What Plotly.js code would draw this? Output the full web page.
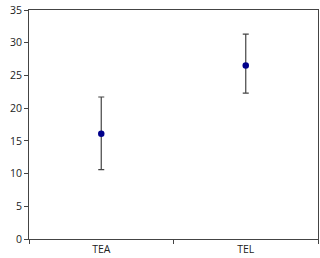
<!DOCTYPE html>
<html><head><meta charset="utf-8">
<script src="https://cdn.plot.ly/plotly-3.0.1.min.js"></script>
<style>html,body{margin:0;padding:0;background:#fff}#c{width:320px;height:258px}</style>
</head><body><div id="c"></div>
<script>
var categories = ["TEA", "TEL"];
var means = [16.1, 26.5];
var errPlus = [5.6, 4.8];
var errMinus = [5.5, 4.2];
var yTicks = [0, 5, 10, 15, 20, 25, 30, 35];

var trace = {
  type: "scatter", mode: "markers",
  x: categories, y: means,
  marker: {color: "#00008b", size: 6.5},
  error_y: {type: "data", symmetric: false, array: errPlus, arrayminus: errMinus,
            color: "#444", thickness: 1.2, width: 3},
  hoverinfo: "skip"
};
var layout = {
  width: 320, height: 258,
  margin: {l: 29, r: 2, t: 10, b: 19},
  showlegend: false,
  paper_bgcolor: "#fff", plot_bgcolor: "#fff",
  font: {family: "Open Sans, DejaVu Sans, sans-serif", size: 10.5, color: "#222"},
  xaxis: {type: "category", tickson: "boundaries", ticks: "outside", ticklen: 4,
          tickcolor: "#444", showline: true, linecolor: "#444", linewidth: 1, mirror: true,
          tickfont: {color: "#222"},
          showgrid: false, zeroline: false, range: [-0.5, 1.5], fixedrange: true},
  yaxis: {range: [0, 35], tickvals: yTicks, ticks: "outside", ticklen: 4, tickcolor: "#444",
          showline: true, linecolor: "#444", linewidth: 1, mirror: true,
          tickfont: {color: "#222"},
          showgrid: false, zeroline: false, fixedrange: true}
};
Plotly.newPlot("c", [trace], layout, {displayModeBar: false, staticPlot: true});
</script></body></html>
